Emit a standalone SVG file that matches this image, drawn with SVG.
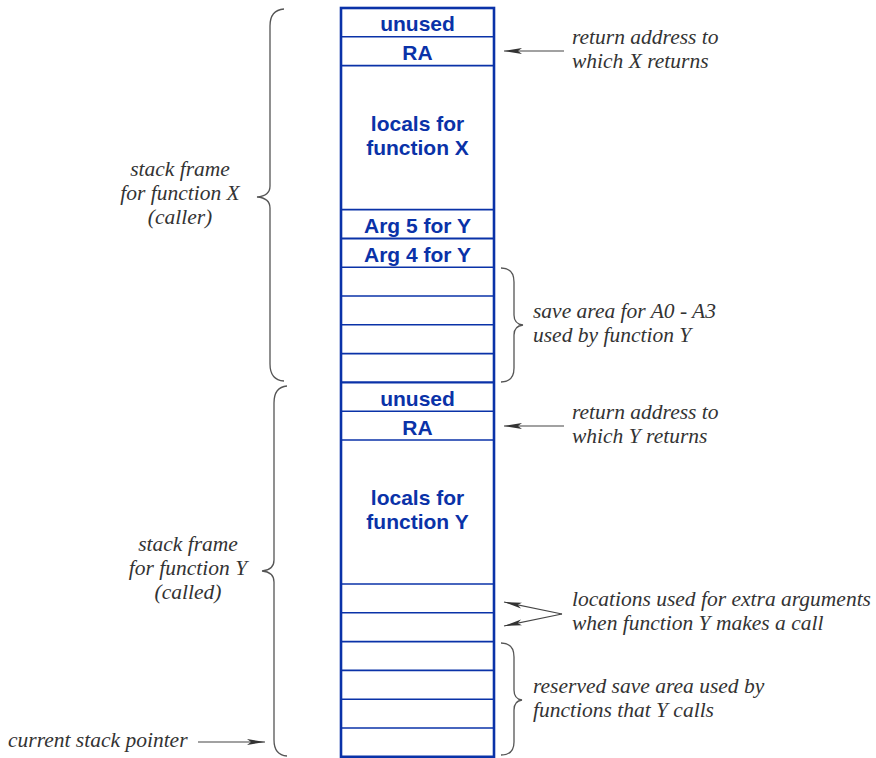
<svg xmlns="http://www.w3.org/2000/svg" width="876" height="758" viewBox="0 0 876 758">
<style>
.cell{fill:none;stroke:#0a32a8;stroke-width:1.6}
.outer{fill:none;stroke:#0a32a8;stroke-width:2.6}
.bt{font-family:"Liberation Sans",Arial,sans-serif;font-weight:bold;font-size:21px;fill:#0a32a8;text-anchor:middle}
.it{font-family:"Liberation Serif","Times New Roman",serif;font-style:italic;font-size:21.5px;fill:#333}
.br{fill:none;stroke:#555;stroke-width:1.3}
.ar{fill:none;stroke:#444;stroke-width:1.1}
</style>
<defs>
<marker id="ah" markerWidth="18" markerHeight="7" refX="18" refY="3.5" orient="auto" markerUnits="userSpaceOnUse">
<path d="M0,0.5 L18,3.5 L0,6.5 L4,3.5 Z" fill="#333"/>
</marker>
</defs>
<g id="stack">
<rect class="outer" x="341" y="8" width="153" height="748.8"/>
<g id="frameX-lines">
<line class="cell" x1="341" y1="36.8" x2="494" y2="36.8"/>
<line class="cell" x1="341" y1="65.6" x2="494" y2="65.6"/>
<line class="cell" x1="341" y1="209.6" x2="494" y2="209.6"/>
<line class="cell" x1="341" y1="238.4" x2="494" y2="238.4" style="stroke-width:2"/>
<line class="cell" x1="341" y1="267.2" x2="494" y2="267.2"/>
<line class="cell" x1="341" y1="296" x2="494" y2="296"/>
<line class="cell" x1="341" y1="324.8" x2="494" y2="324.8"/>
<line class="cell" x1="341" y1="353.6" x2="494" y2="353.6"/>
<line class="cell" x1="341" y1="382.4" x2="494" y2="382.4" style="stroke-width:2.4"/>
</g>
<g id="frameY-lines">
<line class="cell" x1="341" y1="411.2" x2="494" y2="411.2"/>
<line class="cell" x1="341" y1="440" x2="494" y2="440"/>
<line class="cell" x1="341" y1="584" x2="494" y2="584"/>
<line class="cell" x1="341" y1="612.8" x2="494" y2="612.8"/>
<line class="cell" x1="341" y1="641.6" x2="494" y2="641.6"/>
<line class="cell" x1="341" y1="670.4" x2="494" y2="670.4"/>
<line class="cell" x1="341" y1="699.2" x2="494" y2="699.2"/>
<line class="cell" x1="341" y1="728" x2="494" y2="728"/>
</g>
</g>
<g id="cell-unusedX"><text class="bt" x="417.5" y="31">unused</text></g>
<g id="cell-RAX"><text class="bt" x="417.5" y="60">RA</text></g>
<g id="cell-localsX"><text class="bt" x="417.5" y="131">locals for</text><text class="bt" x="417.5" y="155">function X</text></g>
<g id="cell-arg5"><text class="bt" x="417.5" y="233">Arg 5 for Y</text></g>
<g id="cell-arg4"><text class="bt" x="417.5" y="262">Arg 4 for Y</text></g>
<g id="cell-unusedY"><text class="bt" x="417.5" y="406">unused</text></g>
<g id="cell-RAY"><text class="bt" x="417.5" y="435">RA</text></g>
<g id="cell-localsY"><text class="bt" x="417.5" y="505">locals for</text><text class="bt" x="417.5" y="529">function Y</text></g>

<g id="label-frameX">
<path class="br" d="M284,9 Q270,10 270,26 L270,186 Q270,196 257,197 Q270,198 270,208 L270,364 Q270,380 284,381"/>
<text class="it" x="180" y="176" text-anchor="middle">stack frame</text>
<text class="it" x="180" y="200" text-anchor="middle">for function X</text>
<text class="it" x="180" y="224" text-anchor="middle">(caller)</text>
</g>
<g id="label-frameY">
<path class="br" d="M287,386 Q274,387 274,403 L274,560 Q274,570 262,571 Q274,572 274,582 L274,740 Q274,755 287,756"/>
<text class="it" x="188" y="551" text-anchor="middle">stack frame</text>
<text class="it" x="188" y="575" text-anchor="middle">for function Y</text>
<text class="it" x="188" y="599" text-anchor="middle">(called)</text>
</g>
<g id="label-saveA0A3">
<path class="br" d="M501,268 Q514,268 514,282 L514,315 Q514,324 523,325 Q514,326 514,335 L514,368 Q514,382 501,382"/>
<text class="it" x="533" y="318">save area for A0 - A3</text>
<text class="it" x="533" y="342">used by function Y</text>
</g>
<g id="label-reserved">
<path class="br" d="M501,643 Q514,643 514,657 L514,690 Q514,699 522,700 Q514,701 514,710 L514,742 Q514,755 501,755"/>
<text class="it" x="533" y="693">reserved save area used by</text>
<text class="it" x="533" y="717">functions that Y calls</text>
</g>
<g id="label-RAX">
<text class="it" x="572" y="44">return address to</text>
<text class="it" x="572" y="68">which X returns</text>
</g>
<g id="label-RAY">
<text class="it" x="572" y="419">return address to</text>
<text class="it" x="572" y="443">which Y returns</text>
</g>
<g id="label-extra">
<text class="it" x="572" y="606">locations used for extra arguments</text>
<text class="it" x="572" y="630">when function Y makes a call</text>
</g>
<g id="label-sp">
<text class="it" x="8" y="747">current stack pointer</text>
</g>
<g id="connectors">
<line class="ar" x1="564" y1="51" x2="504" y2="51" marker-end="url(#ah)"/>
<line class="ar" x1="564" y1="426" x2="504" y2="426" marker-end="url(#ah)"/>
<line class="ar" x1="562" y1="614" x2="504" y2="602" marker-end="url(#ah)"/>
<line class="ar" x1="562" y1="614" x2="504" y2="626" marker-end="url(#ah)"/>
<line class="ar" x1="198" y1="742" x2="265" y2="742" marker-end="url(#ah)"/>
</g>
</svg>
